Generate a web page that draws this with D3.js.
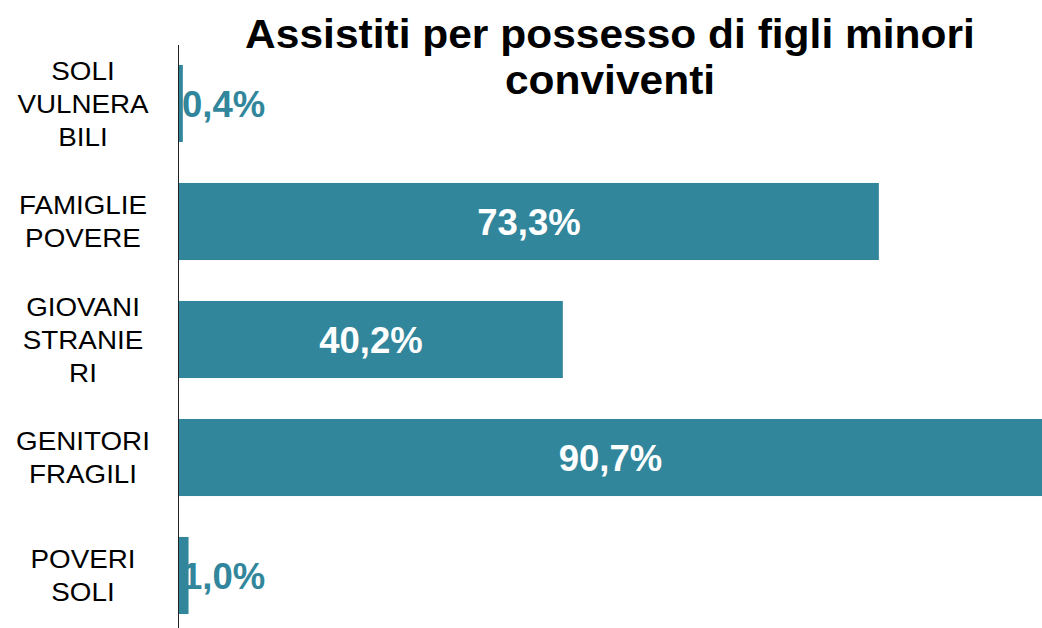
<!DOCTYPE html>
<html>
<head>
<meta charset="utf-8">
<script src="https://cdn.jsdelivr.net/npm/d3@7"></script>
<style>
  html, body { margin: 0; padding: 0; background: #ffffff; }
  svg { display: block; }
</style>
</head>
<body>
<svg id="chart" width="1042" height="628"></svg>
<script>
// Categories (top to bottom) and the share of assisted people with minor children
const categories = ["SOLI VULNERABILI", "FAMIGLIE POVERE", "GIOVANI STRANIERI", "GENITORI FRAGILI", "POVERI SOLI"];
const labelLines = [["SOLI", "VULNERA", "BILI"], ["FAMIGLIE", "POVERE"], ["GIOVANI", "STRANIE", "RI"], ["GENITORI", "FRAGILI"], ["POVERI", "SOLI"]];
const values = [0.4, 73.3, 40.2, 90.7, 1.0];
const valueLabels = ["0,4%", "73,3%", "40,2%", "90,7%", "1,0%"];
const titleLines = ["Assistiti per possesso di figli minori", "conviventi"];

const W = 1042, H = 628;
const svg = d3.select("#chart");
const barColor = "#32869c";
const font = "Liberation Sans, Arial, Helvetica, sans-serif";

const x = d3.scaleLinear().domain([0, 90.7]).range([179, 1045]);
const y = d3.scaleBand().domain(categories).range([44.5, 634.5])
  .paddingInner(0.347).paddingOuter(0.1735);

// Bars
svg.append("g").selectAll("rect")
  .data(categories)
  .join("rect")
  .attr("x", x(0))
  .attr("y", d => y(d))
  .attr("width", (d, i) => x(values[i]) - x(0))
  .attr("height", y.bandwidth())
  .attr("fill", barColor);

// Category axis: a plain vertical rule with wrapped labels
svg.append("line")
  .attr("x1", 178.5).attr("x2", 178.5)
  .attr("y1", 45).attr("y2", H)
  .attr("stroke", "#222").attr("stroke-width", 1);

const lineH = 33;
const cat = svg.append("g")
  .attr("transform", "translate(83,0) scale(1.09,1)")
  .selectAll("text")
  .data(categories)
  .join("text")
  .attr("text-anchor", "middle")
  .attr("font-family", font)
  .attr("font-size", 25.5)
  .attr("fill", "#000");
cat.each(function (d, i) {
  const lines = labelLines[i];
  const cy = y(d) + y.bandwidth() / 2;
  const first = cy - (lines.length - 1) * lineH / 2 + 9.5;
  d3.select(this).selectAll("tspan")
    .data(lines)
    .join("tspan")
    .attr("x", 0)
    .attr("y", (l, j) => first + j * lineH)
    .text(l => l);
});

// Value labels: inside the bar in white, or just right of the axis for tiny bars
svg.append("g").selectAll("text")
  .data(categories)
  .join("text")
  .attr("font-family", font)
  .attr("font-weight", "bold")
  .attr("font-size", 36.5)
  .attr("dominant-baseline", "central")
  .attr("y", d => y(d) + y.bandwidth() / 2 + 1)
  .each(function (d, i) {
    const inside = values[i] > 10;
    const sel = d3.select(this);
    if (inside) {
      const x1 = Math.min(x(values[i]), W);
      sel.attr("x", (x(0) + x1) / 2).attr("text-anchor", "middle").attr("fill", "#ffffff");
    } else {
      sel.attr("x", x(0) + 3).attr("text-anchor", "start").attr("fill", barColor);
    }
  })
  .text((d, i) => valueLabels[i]);

// Title, two centred lines, slightly condensed
const title = svg.append("g");
const t1 = title.append("text")
  .attr("font-family", font).attr("font-weight", "bold").attr("font-size", 41)
  .attr("text-anchor", "middle").attr("x", 0).attr("y", 48)
  .text(titleLines[0]);
title.append("text")
  .attr("font-family", font).attr("font-weight", "bold").attr("font-size", 41)
  .attr("text-anchor", "middle").attr("x", 0).attr("y", 94)
  .text(titleLines[1]);
const natural = t1.node().getComputedTextLength();
const sx = 730 / natural;
title.attr("transform", `translate(610,0) scale(${sx},1)`);
</script>
</body>
</html>
